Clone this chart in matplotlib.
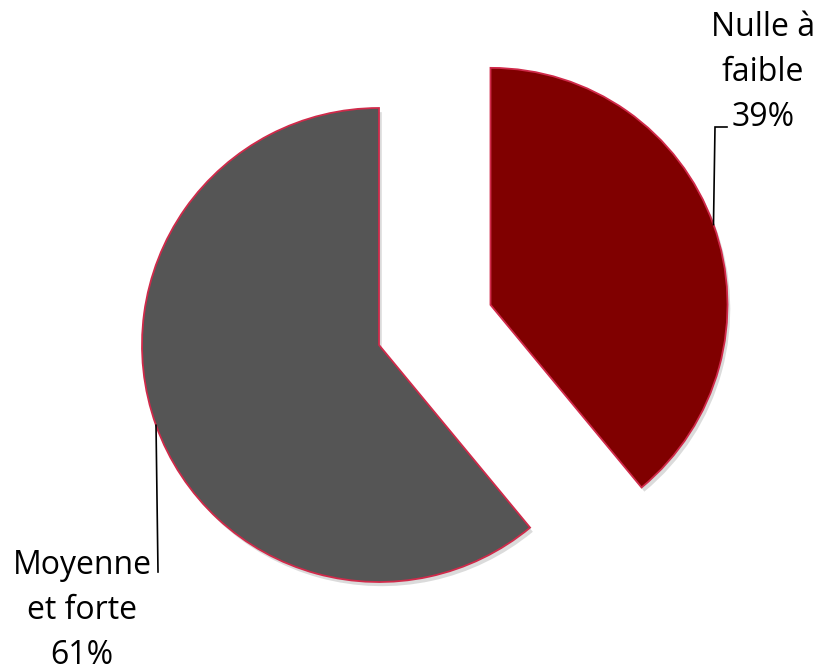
import numpy as np
import matplotlib.pyplot as plt
import matplotlib.patheffects as pe

categories = ["Nulle à\nfaible", "Moyenne\net forte"]
values = [39, 61]
colors = ["#800000", "#555555"]
explode = [0.5, 0.0]

plt.rcParams["font.family"] = ["Open Sans", "DejaVu Sans"]

W, H = 819, 667
fig = plt.figure(figsize=(W / 100, H / 100), dpi=100)
ax = fig.add_axes([0, 0, 1, 1])

# pie center (unexploded slice) in pixels and radius in pixels
cx, cy, rpx = 379, 345, 237


def px(x, y):
    """pixel -> data coords"""
    return (x - cx) / rpx, (cy - y) / rpx


wedges, _ = ax.pie(
    values,
    colors=colors,
    explode=explode,
    startangle=90,
    counterclock=False,
    radius=1.0,
    wedgeprops=dict(edgecolor="#d02a4a", linewidth=1.3),
)
for w in wedges:
    w.set_path_effects([
        pe.SimplePatchShadow(offset=(2, -3), shadow_rgbFace="#999999", alpha=0.35),
        pe.Normal(),
    ])

ax.set_xlim(px(0, 0)[0], px(W, 0)[0])
ax.set_ylim(px(0, H)[1], px(0, 0)[1])
ax.set_aspect("auto")
ax.axis("off")

# leader lines from the middle of each slice's arc
bends = [[px(715, 127), px(727, 127)], [px(158, 572)]]
for w, pts in zip(wedges, bends):
    mid = np.deg2rad((w.theta1 + w.theta2) / 2)
    x0 = w.center[0] + w.r * np.cos(mid)
    y0 = w.center[1] + w.r * np.sin(mid)
    xs = [x0] + [p[0] for p in pts]
    ys = [y0] + [p[1] for p in pts]
    ax.plot(xs, ys, color="black", linewidth=1.2, solid_joinstyle="miter")

# baseline of the last line of each label, in pixels
label_pos = [(763, 126), (82, 664)]
for name, v, (lx, ly) in zip(categories, values, label_pos):
    fig.text(lx / W, 1 - ly / H, f"{name}\n{v}%", ha="center", va="baseline",
             fontsize=23, linespacing=1.47, color="black")

fig.savefig("out.png", dpi=100)
